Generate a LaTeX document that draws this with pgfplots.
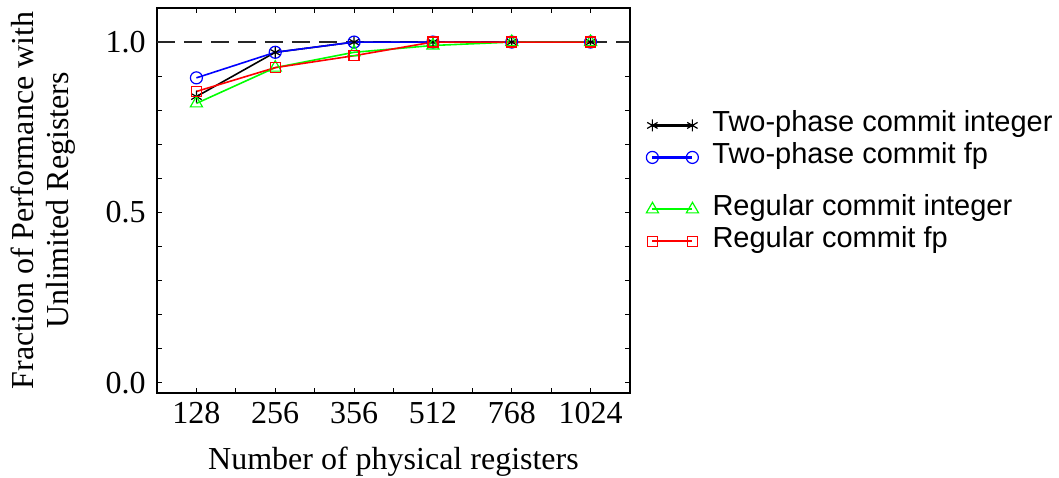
\documentclass[border=0pt]{standalone}
\usepackage{fontspec}
\setmainfont{Liberation Serif}
\newfontfamily\legfont{Liberation Sans}
\usepackage{pgfplots}
\pgfplotsset{compat=1.18}
\begin{document}
\begin{tikzpicture}
\useasboundingbox (-78.5pt,-42pt) rectangle (451pt,196.5pt);
\pgfplotsset{
  myleg/.style={
    legend style={draw=none, fill=none, inner sep=0pt, font=\legfont\fontsize{14.5}{15}\selectfont,
      nodes={inner sep=0pt, text height=10.5pt, text depth=4.5pt}, column sep=7pt, row sep=1pt},
    legend cell align=left,
    legend image code/.code={\draw[##1, line width=1.1pt] plot coordinates {(0pt,0pt) (20pt,0pt)};},
  }
}
\begin{axis}[
  at={(0,0)}, anchor=south west,
  scale only axis, width=236.5pt, height=192.5pt,
  xmin=-0.5, xmax=5.5, ymin=-0.03, ymax=1.1,
  xtick={0,1,2,3,4,5}, xticklabels={128,256,356,512,768,1024},
  minor x tick num=1,
  ytick={0,0.5,1}, yticklabels={0.0,0.5,1.0},
  minor y tick num=4,
  major tick length=2.5pt, minor tick length=2.5pt,
  tick style={line width=0.5pt, black},
  axis line style={line width=0.9pt},
  ticklabel style={font=\fontsize{16}{16}\selectfont},
  xticklabel style={anchor=base, inner sep=0pt, yshift=-15pt},
  yticklabel style={anchor=east, inner sep=0pt, xshift=-5.5pt},
  xlabel={Number of physical registers},
  ylabel={Fraction of Performance with\\Unlimited Registers},
  label style={font=\fontsize{16}{17.5}\selectfont},
  xlabel style={at={(rel axis cs:0.5,0)}, anchor=center, yshift=-34.5pt},
  ylabel style={at={(rel axis cs:0,0.5)}, anchor=center, yshift=57pt, align=center},
  myleg,
  legend style={at={(1.0338,0.735)}, anchor=north west},
  clip=false,
]
\addplot[black!85, line width=0.8pt, dash pattern=on 9pt off 4.5pt, forget plot] coordinates {(-0.5,1) (5.5,1)};
\addplot[black, line width=0.8pt, mark=asterisk, mark size=3pt, mark options={line width=0.6pt}] coordinates {
(0,0.84) (1,0.97) (2,1.0) (3,1.0) (4,1.0) (5,1.0)};
\addlegendentry{Two-phase commit integer}
\addplot[blue, line width=0.8pt, mark=o, mark size=3pt, mark options={line width=0.6pt}] coordinates {
(0,0.895) (1,0.97) (2,1.0) (3,1.0) (4,1.0) (5,1.0)};
\addlegendentry{Two-phase commit fp}
\addplot[green, line width=0.8pt, mark=triangle, mark size=3.5pt, mark options={line width=0.6pt}, forget plot] coordinates {
(0,0.82) (1,0.925) (2,0.97) (3,0.99) (4,1.0) (5,1.0)};
\addplot[red, line width=0.8pt, mark=square, mark size=2.5pt, mark options={line width=0.6pt}, forget plot] coordinates {
(0,0.855) (1,0.925) (2,0.96) (3,1.0) (4,1.0) (5,1.0)};
\end{axis}
\begin{axis}[
  at={(0,0)}, anchor=south west,
  scale only axis, width=236.5pt, height=192.5pt,
  xmin=0, xmax=1, ymin=0, ymax=1, hide axis,
  myleg,
  legend style={at={(1.0338,0.517)}, anchor=north west},
]
\addlegendimage{green, line width=0.8pt, mark=triangle, mark size=3.5pt, mark options={line width=0.6pt}}
\addlegendentry{Regular commit integer}
\addlegendimage{red, line width=0.8pt, mark=square, mark size=2.5pt, mark options={line width=0.6pt}}
\addlegendentry{Regular commit fp}
\end{axis}
\end{tikzpicture}
\end{document}
